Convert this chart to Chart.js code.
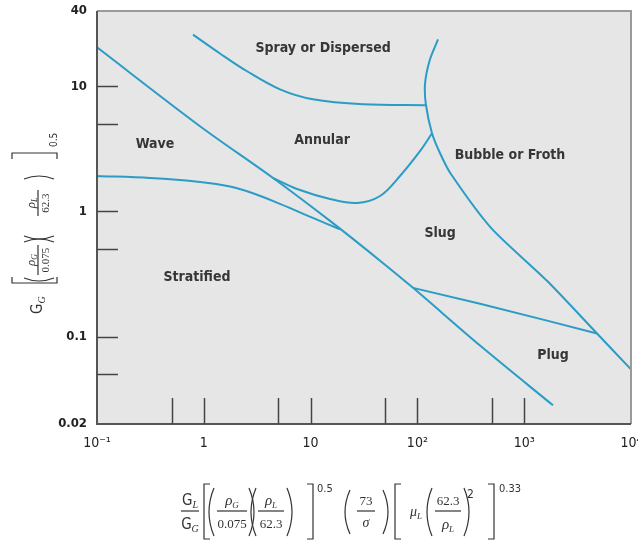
<!DOCTYPE html>
<html>
<head>
<meta charset="utf-8">
<script src="https://cdn.jsdelivr.net/npm/chart.js@4.4.0/dist/chart.umd.min.js"></script>
<style>
  html, body { margin: 0; padding: 0; background: #fff; }
  #wrap { width: 638px; height: 540px; }
</style>
</head>
<body>
<div id="wrap"><canvas id="bakerChart" width="638" height="540"></canvas></div>
<script>
// axis ticks
const xTickValues = [0.1, 1, 10, 100, 1000, 10000];
const xTickLabels = ['10⁻¹', '1', '10', '10²', '10³', '10⁴'];
const yTickValues = [0.02, 0.1, 1, 10, 40];
const yTickLabels = ['0.02', '0.1', '1', '10', '40'];
const xInnerTicks = [0.5, 1, 5, 10, 50, 100, 500, 1000];
const yInnerTicks = [0.05, 0.1, 0.5, 1, 5, 10];

// flow regime boundaries
const mainLineX = [0.1, 0.921, 4.45, 15.2, 44.7, 91, 386, 1860];
const mainLineY = [20.5, 4.80, 1.85, 0.840, 0.404, 0.245, 0.0847, 0.0282];

const stratifiedX = [0.1, 0.313, 0.921, 1.76, 3.02, 5.17, 10.5, 18.8];
const stratifiedY = [1.92, 1.85, 1.72, 1.58, 1.38, 1.15, 0.888, 0.72];

const annularLowX = [4.45, 7.46, 15.2, 27.2, 44.7, 68.7, 105.7, 137];
const annularLowY = [1.85, 1.51, 1.258, 1.169, 1.329, 1.92, 3.03, 4.22];

const sprayX = [0.792, 1.418, 2.54, 5.17, 10.5, 30.9, 120];
const sprayY = [25.9, 18.3, 13.2, 9.46, 7.88, 7.19, 7.06];

const bubbleX = [156, 131, 118, 120, 137, 163, 206, 489, 1635, 4808, 10000];
const bubbleY = [23.7, 16.4, 10.6, 7.19, 4.22, 2.92, 1.99, 0.739, 0.279, 0.1057, 0.0546];

const plugX = [91, 386, 1635, 4808];
const plugY = [0.245, 0.183, 0.134, 0.1057];

// region names and where they sit (data units)
const regionNames = ['Spray or Dispersed', 'Annular', 'Wave', 'Bubble or Froth', 'Slug', 'Stratified', 'Plug'];
const regionX = [13.1, 12.8, 0.349, 736, 163, 0.863, 1862];
const regionY = [20.1, 3.72, 3.45, 2.82, 0.662, 0.295, 0.0706];

const lineColor = '#2a9cc6';
const sansN = '"Liberation Sans Narrow", "Arial Narrow", "DejaVu Sans Condensed", "Liberation Sans", sans-serif';
const serif = '"Liberation Serif", "DejaVu Serif", serif';

function curve(xs, ys, tension) {
    return {
        data: xs.map((x, i) => ({ x: x, y: ys[i] })),
        showLine: true,
        borderColor: lineColor,
        borderWidth: 2,
        pointRadius: 0,
        tension: tension,
        fill: false
    };
}

// text helpers for the formula titles
function drawParts(ctx, parts, x, y, align) {
    let w = 0;
    parts.forEach(p => { ctx.font = p[1]; w += ctx.measureText(p[0]).width; });
    let cx = align === 'center' ? x - w / 2 : x;
    parts.forEach(p => {
        ctx.font = p[1];
        ctx.fillText(p[0], cx, y + (p[2] || 0));
        cx += ctx.measureText(p[0]).width;
    });
}
function drawFrac(ctx, num, den, cx, barY, barW, numGap, denGap) {
    drawParts(ctx, num, cx, barY - numGap, 'center');
    drawParts(ctx, den, cx, barY + denGap, 'center');
    ctx.beginPath();
    ctx.moveTo(cx - barW / 2, barY);
    ctx.lineTo(cx + barW / 2, barY);
    ctx.stroke();
}
function bracket(ctx, x, top, bot, dir) {
    ctx.beginPath();
    ctx.moveTo(x + 6 * dir, top);
    ctx.lineTo(x, top);
    ctx.lineTo(x, bot);
    ctx.lineTo(x + 6 * dir, bot);
    ctx.stroke();
}
function paren(ctx, x, top, bot, dir, bulge) {
    ctx.beginPath();
    ctx.moveTo(x, top);
    ctx.quadraticCurveTo(x - (bulge || 10) * dir, (top + bot) / 2, x, bot);
    ctx.stroke();
}

const rho = (sub) => [['ρ', 'italic 15px ' + serif], [sub, 'italic 9px ' + serif, 3]];
const gSub = (sub) => [['G', '15px ' + sansN], [sub, 'italic 10px ' + serif, 3]];
const num = (t) => [[t, '13px ' + serif]];

const bakerPlugin = {
    id: 'bakerPlugin',
    beforeDraw(chart) {
        const { ctx, chartArea: a } = chart;
        ctx.save();
        ctx.fillStyle = '#e6e6e6';
        ctx.fillRect(a.left, a.top, a.right - a.left, a.bottom - a.top);
        ctx.restore();
    },
    afterDraw(chart) {
        const { ctx, chartArea: a, scales } = chart;
        const xs = scales.x, ys = scales.y;
        ctx.save();
        // frame
        ctx.strokeStyle = '#9a9a9a';
        ctx.lineWidth = 2;
        ctx.beginPath();
        ctx.moveTo(a.left, a.top); ctx.lineTo(a.right, a.top); ctx.lineTo(a.right, a.bottom);
        ctx.stroke();
        ctx.strokeStyle = '#555';
        ctx.beginPath();
        ctx.moveTo(a.left, a.top); ctx.lineTo(a.left, a.bottom); ctx.lineTo(a.right, a.bottom);
        ctx.stroke();
        // inner tick marks
        ctx.lineWidth = 1.5;
        ctx.strokeStyle = '#444';
        xInnerTicks.forEach(v => {
            const px = Math.round(xs.getPixelForValue(v)) + 0.5;
            ctx.beginPath(); ctx.moveTo(px, a.bottom); ctx.lineTo(px, a.bottom - 26); ctx.stroke();
        });
        yInnerTicks.forEach(v => {
            const py = Math.round(ys.getPixelForValue(v)) + 0.5;
            ctx.beginPath(); ctx.moveTo(a.left, py); ctx.lineTo(a.left + 21, py); ctx.stroke();
        });
        // region names
        ctx.fillStyle = '#363636';
        ctx.font = 'bold 14px ' + sansN;
        ctx.textAlign = 'center';
        ctx.textBaseline = 'middle';
        regionNames.forEach((n, i) => {
            ctx.fillText(n, xs.getPixelForValue(regionX[i]), ys.getPixelForValue(regionY[i]));
        });

        // x axis title
        ctx.textAlign = 'left';
        ctx.textBaseline = 'alphabetic';
        ctx.fillStyle = '#333';
        ctx.strokeStyle = '#333';
        ctx.lineWidth = 1.2;
        const bar = 511;
        drawFrac(ctx, gSub('L'), gSub('G'), 190, bar, 18, 6, 18);
        bracket(ctx, 204, 484, 539, 1);
        paren(ctx, 214, 488, 536, 1);
        drawFrac(ctx, rho('G'), num('0.075'), 232, bar, 30, 6, 17);
        paren(ctx, 249, 488, 536, -1);
        paren(ctx, 256, 488, 536, 1);
        drawFrac(ctx, rho('L'), num('62.3'), 271, bar, 26, 6, 17);
        paren(ctx, 287, 488, 536, -1);
        bracket(ctx, 313, 484, 539, -1);
        drawParts(ctx, [['0.5', '11px ' + sansN]], 317, 492, 'left');
        paren(ctx, 350, 490, 534, 1);
        drawFrac(ctx, num('73'), [['σ', 'italic 14px ' + serif]], 366, bar, 18, 6, 16);
        paren(ctx, 383, 490, 534, -1);
        bracket(ctx, 395, 484, 539, 1);
        drawParts(ctx, [['μ', 'italic 14px ' + serif], ['L', 'italic 9px ' + serif, 3]], 410, 516, 'left');
        paren(ctx, 432, 488, 536, 1);
        drawFrac(ctx, num('62.3'), rho('L'), 448, bar, 26, 6, 18);
        paren(ctx, 464, 488, 536, -1);
        drawParts(ctx, [['2', '12px ' + sansN]], 467, 498, 'left');
        bracket(ctx, 494, 484, 539, -1);
        drawParts(ctx, [['0.33', '11px ' + sansN]], 499, 492, 'left');

        // y axis title, rotated
        ctx.translate(38, 310);
        ctx.rotate(-Math.PI / 2);
        drawParts(ctx, [['G', '15px ' + sansN], ['G', 'italic 10px ' + serif, 3]], -4, 4, 'left');
        bracket(ctx, 27, -26, 19, 1);
        paren(ctx, 32, -14, 16, 1, 6);
        drawFrac(ctx, [['ρ', 'italic 13px ' + serif], ['G', 'italic 8px ' + serif, 2]], [['0.075', '11px ' + serif]], 50, 0, 30, 3, 11);
        paren(ctx, 68, -14, 16, -1, 6);
        paren(ctx, 74, -14, 16, 1, 6);
        drawFrac(ctx, [['ρ', 'italic 13px ' + serif], ['L', 'italic 8px ' + serif, 2]], [['62.3', '11px ' + serif]], 107, 0, 26, 3, 11);
        paren(ctx, 131, -14, 16, -1, 6);
        bracket(ctx, 157, -26, 19, -1);
        drawParts(ctx, [['0.5', '10px ' + sansN]], 163, 19, 'left');
        ctx.restore();
    }
};

new Chart(document.getElementById('bakerChart').getContext('2d'), {
    type: 'scatter',
    data: {
        datasets: [
            curve(mainLineX, mainLineY, 0.3),
            curve(stratifiedX, stratifiedY, 0.35),
            curve(annularLowX, annularLowY, 0.35),
            curve(sprayX, sprayY, 0.35),
            curve(bubbleX, bubbleY, 0.25),
            curve(plugX, plugY, 0)
        ]
    },
    options: {
        responsive: false,
        animation: false,
        layout: { padding: { top: 11, right: 7, left: 0, bottom: 0 }, autoPadding: false },
        plugins: { legend: { display: false }, tooltip: { enabled: false } },
        scales: {
            x: {
                type: 'logarithmic',
                min: 0.1,
                max: 10000,
                grid: { display: false, drawTicks: false },
                border: { display: false },
                afterBuildTicks: s => { s.ticks = xTickValues.map(v => ({ value: v })); },
                afterFit: s => { s.height = 116; s.paddingLeft = 0; s.paddingRight = 0; },
                ticks: {
                    autoSkip: false,
                    maxRotation: 0,
                    minRotation: 0,
                    padding: 11,
                    color: '#222',
                    font: { family: sansN, size: 14 },
                    callback: v => { const i = xTickValues.indexOf(v); return i >= 0 ? xTickLabels[i] : ''; }
                }
            },
            y: {
                type: 'logarithmic',
                min: 0.02,
                max: 40,
                grid: { display: false, drawTicks: false },
                border: { display: false },
                afterBuildTicks: s => { s.ticks = yTickValues.map(v => ({ value: v })); },
                afterFit: s => { s.width = 97; s.paddingTop = 0; s.paddingBottom = 0; },
                ticks: {
                    padding: 10,
                    color: '#222',
                    font: { family: sansN, size: 13, weight: 'bold' },
                    callback: v => { const i = yTickValues.indexOf(v); return i >= 0 ? yTickLabels[i] : ''; }
                }
            }
        }
    },
    plugins: [bakerPlugin]
});
</script>
</body>
</html>
